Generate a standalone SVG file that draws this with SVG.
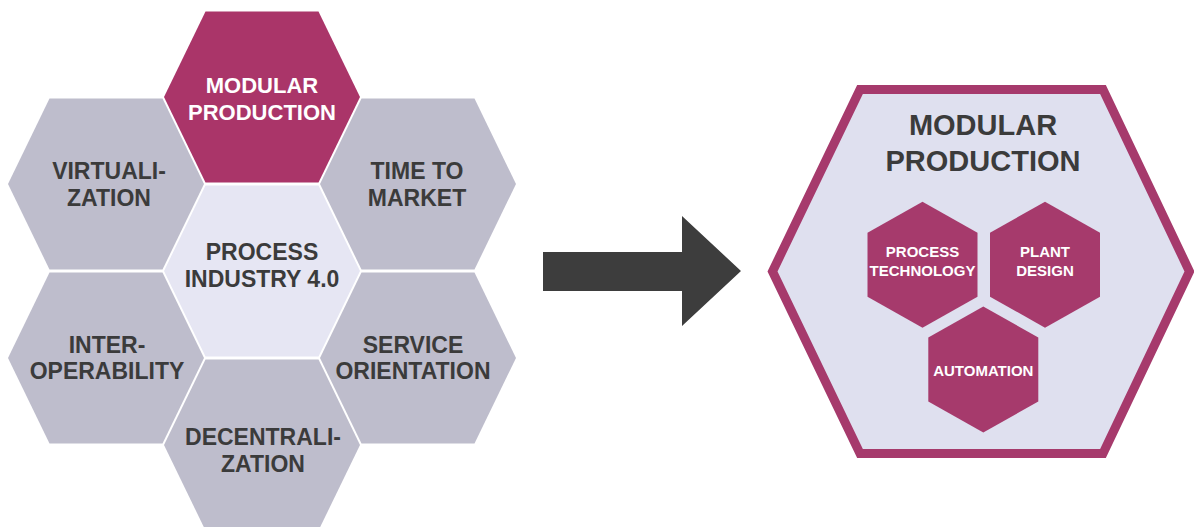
<svg xmlns="http://www.w3.org/2000/svg" xmlns:xlink="http://www.w3.org/1999/xlink" width="1194" height="527" viewBox="0 0 1194 527">
<defs>
<style>
.lbl{font-family:"Liberation Sans",Arial,sans-serif;font-weight:bold;text-anchor:middle;fill:#3b3b3b}
.lblw{font-family:"Liberation Sans",Arial,sans-serif;font-weight:bold;text-anchor:middle;fill:#ffffff}
.gray{fill:#bebdcc}
.mag{fill:#aa3569}
.mag2{fill:#a63a6c}
</style>
<polygon id="hx" points="-98,0 -56.5,-85.5 56.5,-85.5 98,0 56.5,85.5 -56.5,85.5"/>
<polygon id="sh" points="0,-63 55,-32 55,32 0,63 -55,32 -55,-32"/>
</defs>
<rect width="1194" height="527" fill="#ffffff"/>
<g id="modular-production">
<use xlink:href="#hx" href="#hx" x="262" y="97" class="mag"/>
<text class="lblw" font-size="22" x="262" y="93">MODULAR</text>
<text class="lblw" font-size="22" x="262" y="120">PRODUCTION</text>
</g>
<g id="virtualization">
<use xlink:href="#hx" href="#hx" x="106" y="184" class="gray"/>
<text class="lbl" font-size="23" x="109" y="179">VIRTUALI-</text>
<text class="lbl" font-size="23" x="109" y="206">ZATION</text>
</g>
<g id="time-to-market">
<use xlink:href="#hx" href="#hx" x="418" y="184" class="gray"/>
<text class="lbl" font-size="23" x="417" y="179">TIME TO</text>
<text class="lbl" font-size="23" x="417" y="206">MARKET</text>
</g>
<g id="process-industry">
<use xlink:href="#hx" href="#hx" x="262" y="271" fill="#e6e6f3"/>
<text class="lbl" font-size="23" x="262" y="260">PROCESS</text>
<text class="lbl" font-size="23" x="262" y="287">INDUSTRY 4.0</text>
</g>
<g id="interoperability">
<use xlink:href="#hx" href="#hx" x="106" y="358" class="gray"/>
<text class="lbl" font-size="23" x="107" y="353">INTER-</text>
<text class="lbl" font-size="23" x="107" y="379">OPERABILITY</text>
</g>
<g id="service-orientation">
<use xlink:href="#hx" href="#hx" x="418" y="358" class="gray"/>
<text class="lbl" font-size="23" x="413" y="353">SERVICE</text>
<text class="lbl" font-size="23" x="413" y="379">ORIENTATION</text>
</g>
<g id="decentralization">
<use xlink:href="#hx" href="#hx" x="262" y="445" class="gray"/>
<text class="lbl" font-size="23" x="263" y="445">DECENTRALI-</text>
<text class="lbl" font-size="23" x="263" y="472">ZATION</text>
</g>
<g id="connectors">
<polygon points="543,252 682,252 682,216 741,271 682,326 682,291 543,291" fill="#3d3d3d"/>
</g>
<g id="modular-production-detail">
<polygon points="772.5,271.5 860,89.5 1103,89.5 1189.5,271.5 1103,453.5 860,453.5" fill="#dfe0ef" stroke="#a63a6c" stroke-width="9" stroke-linejoin="miter"/>
<text class="lbl" font-size="29" x="983" y="135">MODULAR</text>
<text class="lbl" font-size="29" x="983" y="171">PRODUCTION</text>
</g>
<g id="process-technology">
<use xlink:href="#sh" href="#sh" x="922.5" y="264.7" class="mag2"/>
<text class="lblw" font-size="15" x="922.5" y="257">PROCESS</text>
<text class="lblw" font-size="15" x="922.5" y="276">TECHNOLOGY</text>
</g>
<g id="plant-design">
<use xlink:href="#sh" href="#sh" x="1045" y="264.7" class="mag2"/>
<text class="lblw" font-size="15" x="1045" y="257">PLANT</text>
<text class="lblw" font-size="15" x="1045" y="276">DESIGN</text>
</g>
<g id="automation">
<use xlink:href="#sh" href="#sh" x="983.3" y="369.5" class="mag2"/>
<text class="lblw" font-size="15" x="983.3" y="376">AUTOMATION</text>
</g>
</svg>
